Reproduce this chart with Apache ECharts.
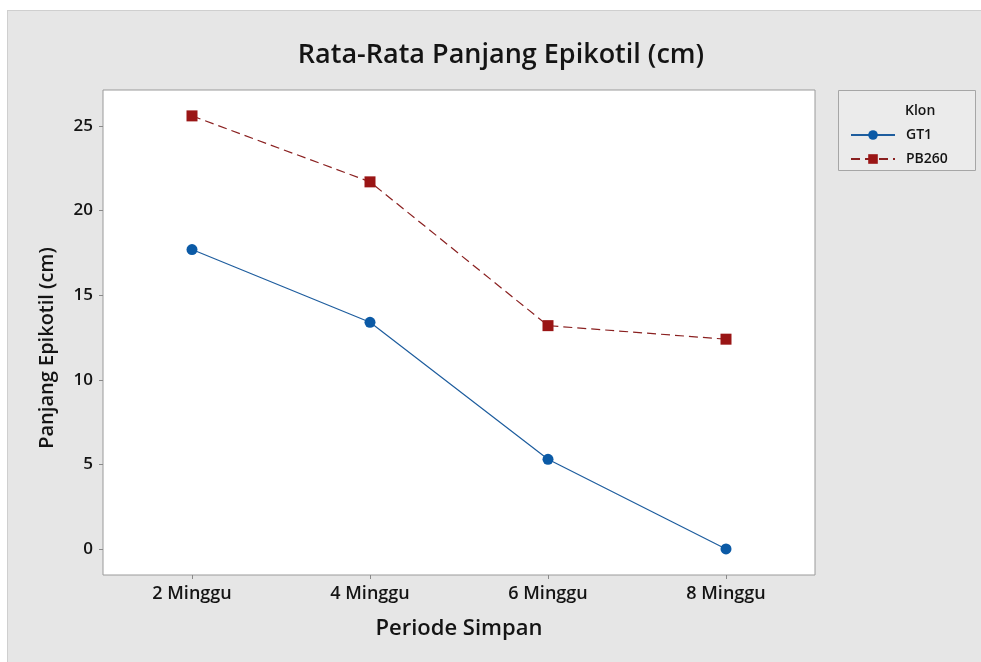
<!DOCTYPE html>
<html>
<head>
<meta charset="UTF-8">
<title>Rata-Rata Panjang Epikotil</title>
<style>
  html, body { margin: 0; padding: 0; background: #ffffff; }
  #panel { position: absolute; left: 7px; top: 10px; width: 980px; height: 660px;
           background: #e6e6e6; border-left: 1px solid #cfcfcf; border-top: 1px solid #cfcfcf; }
  #main { position: absolute; left: 0; top: 0; width: 981px; height: 662px; }
</style>
</head>
<body>
<div id="panel"></div>
<div id="main"></div>
<script src="https://cdn.jsdelivr.net/npm/echarts@6/dist/echarts.min.js"></script>
<script>
var categories = ['2 Minggu', '4 Minggu', '6 Minggu', '8 Minggu'];
var gt1 = [17.7, 13.4, 5.3, 0.0];
var pb260 = [25.6, 21.7, 13.2, 12.4];
var yTicks = [0, 5, 10, 15, 20, 25];

var chart = echarts.init(document.getElementById('main'));
var font = 'Open Sans';
var ink = '#141414';

chart.setOption({
  backgroundColor: 'transparent',
  textStyle: { fontFamily: font },
  title: [
    {
      text: 'Rata-Rata Panjang Epikotil (cm)',
      left: 496, top: 37, textAlign: 'center',
      textStyle: { fontSize: 27, fontWeight: 600, color: ink, fontFamily: font }
    },
    {
      text: 'Klon',
      left: 900, top: 99,
      textStyle: { fontSize: 14, fontWeight: 600, color: ink, fontFamily: font }
    }
  ],
  graphic: [
    {
      type: 'rect',
      shape: { x: 838.5, y: 90.5, width: 137, height: 80 },
      style: { fill: '#ebebeb', stroke: '#a6a6a6', lineWidth: 1 },
      z: -1
    },
    {
      type: 'text',
      x: 47, y: 348,
      rotation: Math.PI / 2,
      style: {
        text: 'Panjang Epikotil (cm)',
        fill: ink,
        font: '600 20px "Open Sans"',
        align: 'center',
        verticalAlign: 'middle'
      }
    }
  ],
  legend: {
    orient: 'vertical',
    left: 845, top: 123,
    itemWidth: 44, itemHeight: 12, itemGap: 10,
    textStyle: { fontSize: 14, fontWeight: 600, color: ink, fontFamily: font, padding: [0, 0, 0, 6] },
    data: ['GT1', 'PB260']
  },
  grid: { left: 103, right: 166, top: 90, bottom: 87, show: true, borderColor: '#9a9a9a', borderWidth: 1, backgroundColor: '#ffffff' },
  xAxis: {
    type: 'category',
    data: categories,
    boundaryGap: true,
    name: 'Periode Simpan',
    nameLocation: 'middle',
    nameGap: 43,
    nameTextStyle: { fontSize: 22, fontWeight: 600, color: ink },
    axisLine: { show: false, onZero: false },
    axisTick: { show: true, alignWithLabel: true, length: 4, lineStyle: { color: '#8a8a8a' } },
    axisLabel: { fontSize: 18, fontWeight: 600, color: ink, margin: 10 },
    splitLine: { show: false }
  },
  yAxis: {
    type: 'value',
    min: -1.54, max: 27.13,
    axisLine: { show: false, onZero: false },
    axisTick: { show: true, length: 4, customValues: yTicks, lineStyle: { color: '#8a8a8a' } },
    axisLabel: { fontSize: 17, fontWeight: 600, color: ink, margin: 10, customValues: yTicks },
    splitLine: { show: false }
  },
  series: [
    {
      name: 'GT1',
      type: 'line',
      data: gt1,
      symbol: 'circle',
      symbolSize: 11,
      itemStyle: { color: '#0b5aa6' },
      lineStyle: { color: '#1e5d9e', width: 1.2, type: 'solid' }
    },
    {
      name: 'PB260',
      type: 'line',
      data: pb260,
      symbol: 'rect',
      symbolSize: 11,
      itemStyle: { color: '#9a1515' },
      lineStyle: { color: '#8a2020', width: 1.2, type: [9, 5] }
    }
  ]
});
</script>
</body>
</html>
